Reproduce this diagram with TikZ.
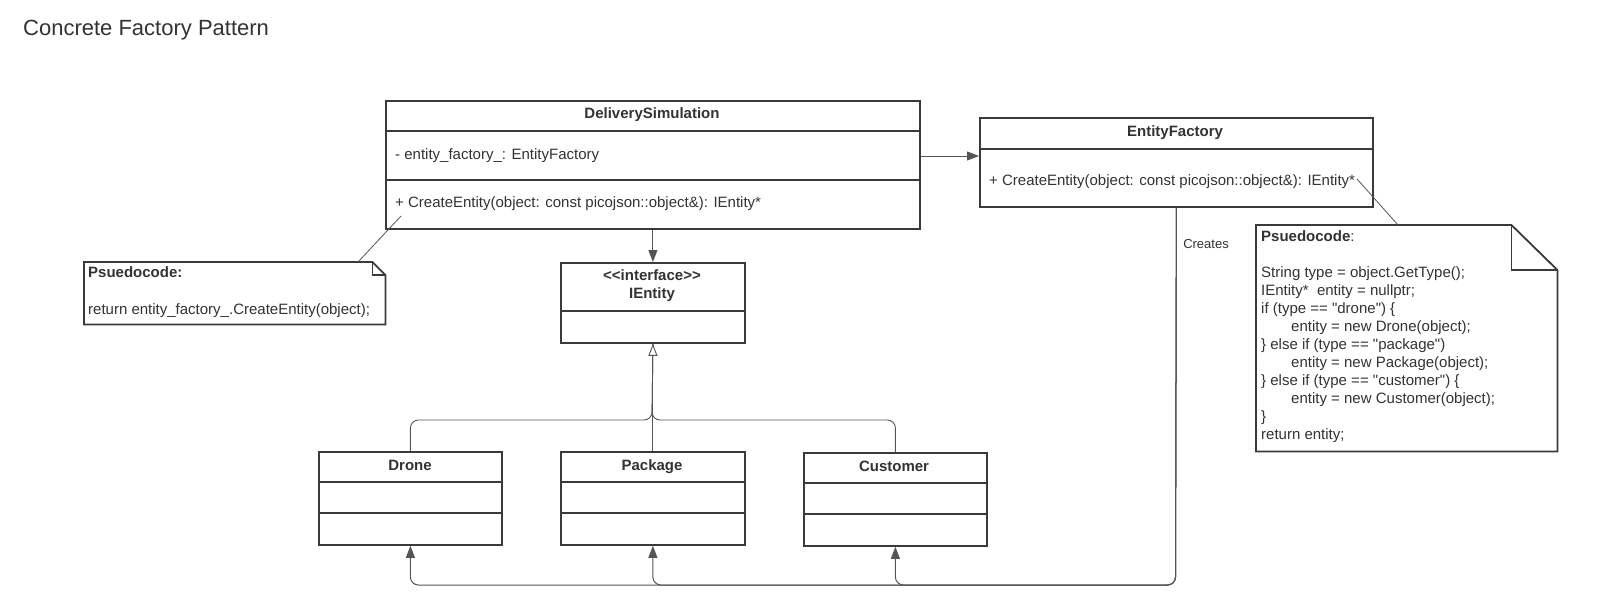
\documentclass[tikz,border=0pt]{standalone}
\usepackage{fontspec}
\setmainfont{Liberation Sans}[Ligatures=TeXOff]
\usetikzlibrary{arrows.meta}
\definecolor{ink}{HTML}{333333}
\definecolor{edge}{HTML}{3A3A3A}
\definecolor{wire}{HTML}{555555}
\begin{document}
\begin{tikzpicture}[x=1pt,y=-1pt,
  box/.style={draw=edge, line width=1.8pt, inner sep=0pt, anchor=north west},
  ghost/.style={inner sep=0pt, anchor=north west},
  div/.style={draw=edge, line width=1.5pt},
  notebox/.style={draw=edge, line width=1.8pt, line join=miter},
  txt/.style={inner sep=0pt, text=ink, font=\fontsize{15}{18}\selectfont},
  btxt/.style={inner sep=0pt, text=ink, font=\fontsize{15}{18}\selectfont\bfseries},
  assoc/.style={draw=wire, line width=1pt, -{Triangle[length=12pt,width=9pt]}},
  gen/.style={draw=wire, line width=0.9pt, -{Triangle[open,length=12pt,width=9pt,fill=white]}},
  plain/.style={draw=wire, line width=0.9pt},
  link/.style={draw=wire, line width=0.8pt}]
\fill[white] (0,0) rectangle (1600,607);
\useasboundingbox (0,0) rectangle (1600,607);

% title
\node[inner sep=0pt, anchor=base west, text=ink, font=\fontsize{22}{26}\selectfont] (title) at (23,36) {Concrete Factory Pattern};

% DeliverySimulation
\node[box, minimum width=534pt, minimum height=128pt] (ds) at (385,100) {};
\draw[div] ([yshift=-31pt]ds.north west) -- ([yshift=-31pt]ds.north east);
\draw[div] ([yshift=-80pt]ds.north west) -- ([yshift=-80pt]ds.north east);
\node[btxt, anchor=base] (dst) at (652,119) {DeliverySimulation};
\node[txt, anchor=base west] (dsa) at (395,159) {- entity\_factory\_: EntityFactory};
\node[txt, anchor=base west] (dsm) at (395,207) {+ CreateEntity(object: const picojson::object\&): IEntity*};

% EntityFactory
\node[box, minimum width=393pt, minimum height=89pt] (ef) at (979,117) {};
\draw[div] ([yshift=-32pt]ef.north west) -- ([yshift=-32pt]ef.north east);
\node[btxt, anchor=base] (eft) at (1175,136) {EntityFactory};
\node[txt, anchor=base west] (efm) at (989,185) {+ CreateEntity(object: const picojson::object\&): IEntity*};

% IEntity
\node[box, minimum width=184pt, minimum height=80pt] (ie) at (560,262) {};
\draw[div] ([yshift=-49pt]ie.north west) -- ([yshift=-49pt]ie.north east);
\node[btxt, anchor=base] (iet1) at (652,280) {<\kern0pt<interface>\kern0pt>};
\node[btxt, anchor=base] (iet2) at (652,298) {IEntity};

% Drone, Package, Customer
\node[box, minimum width=183pt, minimum height=93pt] (dr) at (318,451) {};
\draw[div] ([yshift=-31pt]dr.north west) -- ([yshift=-31pt]dr.north east);
\draw[div] ([yshift=-62pt]dr.north west) -- ([yshift=-62pt]dr.north east);
\node[btxt, anchor=base] (drt) at (410,470) {Drone};

\node[box, minimum width=184pt, minimum height=93pt] (pk) at (560,451) {};
\draw[div] ([yshift=-31pt]pk.north west) -- ([yshift=-31pt]pk.north east);
\draw[div] ([yshift=-62pt]pk.north west) -- ([yshift=-62pt]pk.north east);
\node[btxt, anchor=base] (pkt) at (652,470) {Package};

\node[box, minimum width=183pt, minimum height=93pt] (cu) at (803,452) {};
\draw[div] ([yshift=-31pt]cu.north west) -- ([yshift=-31pt]cu.north east);
\draw[div] ([yshift=-62pt]cu.north west) -- ([yshift=-62pt]cu.north east);
\node[btxt, anchor=base] (cut) at (894,471) {Customer};

% left note
\node[ghost, minimum width=301pt, minimum height=62pt] (ln) at (84,262) {};
\draw[notebox] (ln.north west) -- ([xshift=-13pt]ln.north east) -- ([yshift=-13pt]ln.north east) -- (ln.south east) -- (ln.south west) -- cycle;
\draw[notebox, line width=1.2pt] ([xshift=-13pt]ln.north east) |- ([yshift=-13pt]ln.north east);
\node[btxt, anchor=base west] (lnt1) at (88,277) {Psuedocode:};
\node[txt, anchor=base west] (lnt2) at (88,314) {return entity\_factory\_.CreateEntity(object);};

% right note
\node[ghost, minimum width=301pt, minimum height=226pt] (rn) at (1256,225) {};
\draw[notebox] (rn.north west) -- ([xshift=-46pt]rn.north east) -- ([yshift=-45pt]rn.north east) -- (rn.south east) -- (rn.south west) -- cycle;
\draw[notebox, line width=1.4pt] ([xshift=-46pt]rn.north east) |- ([yshift=-45pt]rn.north east);
\node[txt, anchor=base west] (r0) at (1261,241) {{\bfseries Psuedocode}:};
\node[txt, anchor=base west] (r1) at (1261,277) {String type = object.GetType();};
\node[txt, anchor=base west] (r2) at (1261,295) {IEntity*\ \ entity = nullptr;};
\node[txt, anchor=base west] (r3) at (1261,313) {if (type == "drone") \{};
\node[txt, anchor=base west] (r4) at (1291,331) {entity = new Drone(object);};
\node[txt, anchor=base west] (r5) at (1261,349) {\} else if (type == "package")};
\node[txt, anchor=base west] (r6) at (1291,367) {entity = new Package(object);};
\node[txt, anchor=base west] (r7) at (1261,385) {\} else if (type == "customer") \{};
\node[txt, anchor=base west] (r8) at (1291,403) {entity = new Customer(object);};
\node[txt, anchor=base west] (r9) at (1261,421) {\}};
\node[txt, anchor=base west] (r10) at (1261,439) {return entity;};

% note links
\coordinate (lnA) at (358,262);
\coordinate (dsB) at (401,216);
\draw[link] (lnA) -- (dsB);
\coordinate (efB) at (1357,179);
\coordinate (rnA) at (1398,225);
\draw[link] (efB) -- (rnA);

% associations
\coordinate (yA) at (0,156);
\draw[assoc] (ds.east |- yA) -- (ef.west |- yA);
\draw[assoc] (ds.south) -- (ie.north);

% generalization
\coordinate (jn) at (652,420);
\draw[plain, rounded corners=8pt] (dr.north) |- (jn) -- (ie.south);
\draw[plain, rounded corners=8pt] (cu.north) |- (jn) -- (ie.south);
\draw[gen] (pk.north) -- (ie.south);

% creates
\coordinate (cb) at (1175.5,585);
\draw[assoc, rounded corners=8pt] (ef.south) -- (cb) -| (dr.south);
\draw[assoc, rounded corners=8pt] (ef.south) -- (cb) -| (pk.south);
\draw[assoc, rounded corners=8pt] (ef.south) -- (cb) -| (cu.south);
\node[inner sep=0pt, anchor=base, text=ink, font=\fontsize{13}{15}\selectfont] (cr) at (1206,248) {Creates};
\end{tikzpicture}
\end{document}
